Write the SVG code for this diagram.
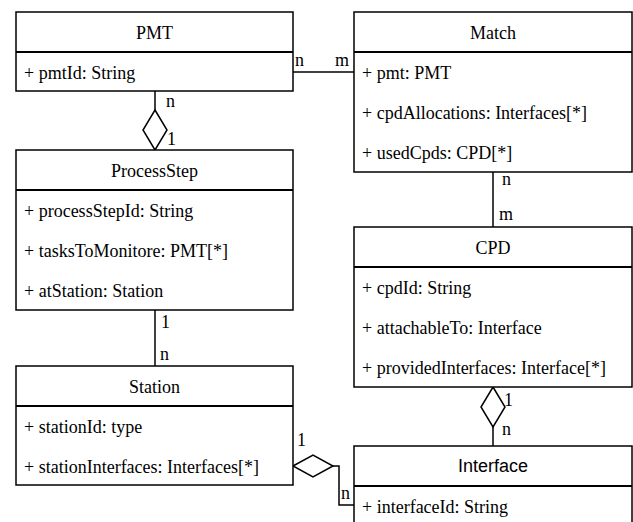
<svg xmlns="http://www.w3.org/2000/svg" width="633" height="522" viewBox="0 0 633 522">
  <!-- connectors -->
  <g id="connectors">
    <g fill="none" stroke="#000000" stroke-width="1.5">
      <!-- PMT - Match -->
      <line x1="293" y1="72" x2="354" y2="72"/>
      <!-- PMT - ProcessStep (aggregation) -->
      <line x1="155" y1="91" x2="155" y2="110"/>
      <polygon fill="#ffffff" points="155,110 167,130 155,150 143,130"/>
      <!-- ProcessStep - Station -->
      <line x1="155" y1="310" x2="155" y2="366"/>
      <!-- Match - CPD -->
      <line x1="493" y1="172" x2="493" y2="227"/>
      <!-- CPD - Interface (aggregation) -->
      <polygon fill="#ffffff" points="493,387 505,407 493,427 481,407"/>
      <line x1="493" y1="427" x2="493" y2="446"/>
      <!-- Station - Interface (aggregation) -->
      <polygon fill="#ffffff" points="293,466 313,455 333,466 313,477"/>
      <polyline points="333,466 339,466 339,505 354,505"/>
    </g>
    <!-- multiplicities -->
    <text x="295" y="66" font-family="Liberation Serif" font-size="18">n</text>
    <text x="335" y="66" font-family="Liberation Serif" font-size="18">m</text>
    <text x="166" y="107" font-family="Liberation Serif" font-size="18">n</text>
    <text x="167" y="145" font-family="Liberation Serif" font-size="18">1</text>
    <text x="161" y="328" font-family="Liberation Serif" font-size="18">1</text>
    <text x="160" y="360" font-family="Liberation Serif" font-size="18">n</text>
    <text x="502" y="185" font-family="Liberation Serif" font-size="18">n</text>
    <text x="499" y="220" font-family="Liberation Serif" font-size="18">m</text>
    <text x="504" y="406" font-family="Liberation Serif" font-size="18">1</text>
    <text x="502" y="435" font-family="Liberation Serif" font-size="18">n</text>
    <text x="297" y="446" font-family="Liberation Serif" font-size="18">1</text>
    <text x="341" y="499" font-family="Liberation Serif" font-size="18">n</text>
  </g>

  <!-- PMT -->
  <g id="PMT">
    <rect x="16" y="12" width="277" height="79" fill="#ffffff" stroke="#000000" stroke-width="1.5"/>
    <line x1="16" y1="52" x2="293" y2="52" stroke="#000000" stroke-width="2"/>
    <text x="154.5" y="39" text-anchor="middle" font-family="Liberation Serif" font-size="18">PMT</text>
    <text x="24" y="79" font-family="Liberation Serif" font-size="18">+ pmtId: String</text>
  </g>

  <!-- Match -->
  <g id="Match">
    <rect x="354" y="12" width="278" height="160" fill="#ffffff" stroke="#000000" stroke-width="1.5"/>
    <line x1="354" y1="52" x2="632" y2="52" stroke="#000000" stroke-width="2"/>
    <text x="493" y="39" text-anchor="middle" font-family="Liberation Serif" font-size="18">Match</text>
    <text x="362" y="79" font-family="Liberation Serif" font-size="18">+ pmt: PMT</text>
    <text x="362" y="119" font-family="Liberation Serif" font-size="18">+ cpdAllocations: Interfaces[*]</text>
    <text x="362" y="159" font-family="Liberation Serif" font-size="18">+ usedCpds: CPD[*]</text>
  </g>

  <!-- ProcessStep -->
  <g id="ProcessStep">
    <rect x="16" y="150" width="277" height="160" fill="#ffffff" stroke="#000000" stroke-width="1.5"/>
    <line x1="16" y1="190" x2="293" y2="190" stroke="#000000" stroke-width="2"/>
    <text x="154.5" y="177" text-anchor="middle" font-family="Liberation Serif" font-size="18">ProcessStep</text>
    <text x="24" y="217" font-family="Liberation Serif" font-size="18">+ processStepId: String</text>
    <text x="24" y="257" font-family="Liberation Serif" font-size="18">+ tasksToMonitore: PMT[*]</text>
    <text x="24" y="297" font-family="Liberation Serif" font-size="18">+ atStation: Station</text>
  </g>

  <!-- CPD -->
  <g id="CPD">
    <rect x="354" y="227" width="278" height="160" fill="#ffffff" stroke="#000000" stroke-width="1.5"/>
    <line x1="354" y1="267" x2="632" y2="267" stroke="#000000" stroke-width="2"/>
    <text x="493" y="254" text-anchor="middle" font-family="Liberation Serif" font-size="18">CPD</text>
    <text x="362" y="294" font-family="Liberation Serif" font-size="18">+ cpdId: String</text>
    <text x="362" y="334" font-family="Liberation Serif" font-size="18">+ attachableTo: Interface</text>
    <text x="362" y="374" font-family="Liberation Serif" font-size="18">+ providedInterfaces: Interface[*]</text>
  </g>

  <!-- Station -->
  <g id="Station">
    <rect x="16" y="366" width="277" height="119" fill="#ffffff" stroke="#000000" stroke-width="1.5"/>
    <line x1="16" y1="406" x2="293" y2="406" stroke="#000000" stroke-width="2"/>
    <text x="154.5" y="393" text-anchor="middle" font-family="Liberation Serif" font-size="18">Station</text>
    <text x="24" y="433" font-family="Liberation Serif" font-size="18">+ stationId: type</text>
    <text x="24" y="473" font-family="Liberation Serif" font-size="18">+ stationInterfaces: Interfaces[*]</text>
  </g>

  <!-- Interface -->
  <g id="Interface">
    <rect x="354" y="446" width="278" height="90" fill="#ffffff" stroke="#000000" stroke-width="1.5"/>
    <line x1="354" y1="486" x2="632" y2="486" stroke="#000000" stroke-width="2"/>
    <text x="493" y="472" text-anchor="middle" font-family="Liberation Sans" font-size="18">Interface</text>
    <text x="362" y="513" font-family="Liberation Serif" font-size="18">+ interfaceId: String</text>
  </g>
</svg>
